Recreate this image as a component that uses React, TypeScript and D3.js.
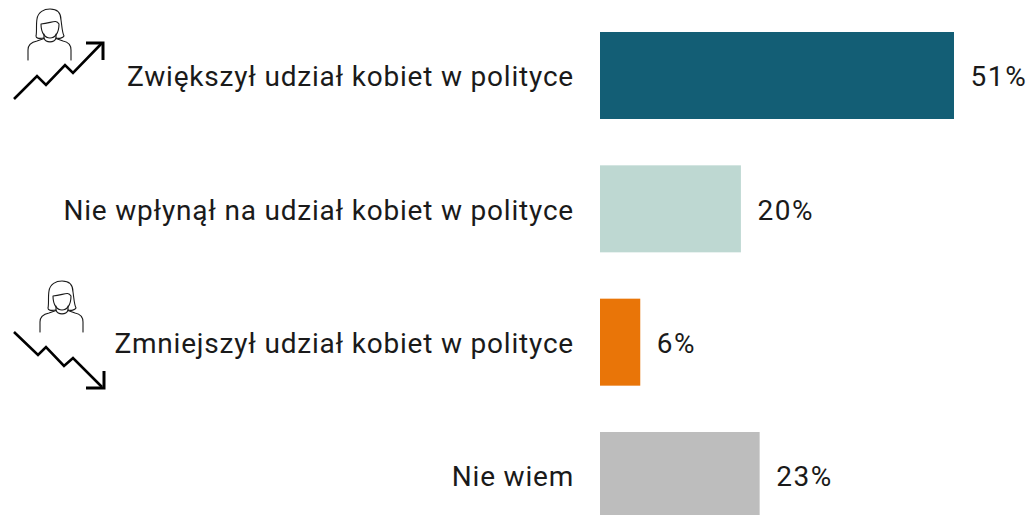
import React from "react";
import * as d3 from "d3";

const categories = [
  "Zwiększył udział kobiet w polityce",
  "Nie wpłynął na udział kobiet w polityce",
  "Zmniejszył udział kobiet w polityce",
  "Nie wiem",
];
const values = [51, 20.3, 5.8, 23];
const colors = ["#135e75", "#bed8d2", "#e97508", "#bdbdbd"];

const WIDTH = 1030;
const HEIGHT = 515;
const FONT = "Roboto, 'Noto Sans', sans-serif";

const x = d3.scaleLinear().domain([0, 51]).range([600, 954]);
const y = d3.scaleBand<string>().domain(categories).range([32, 519]).paddingInner(0.3475).paddingOuter(0);
const pct = d3.format(".0f");

function Person({ dx, dy }: { dx: number; dy: number }) {
  return (
    <g transform={`translate(${dx},${dy})`} fill="none" stroke="#1a1a1a" strokeWidth={1.1} strokeLinejoin="round" strokeLinecap="round">
      <path d="M28 60 V50 C28 44 32 42 37 41 L44 38.5 C46 43 54 43 56 38.5 L63 41 C68 42 71 44 71 50 V60" />
      <path d="M44 34 V38.5 M56 34 V38.5" />
      <path d="M41 24 C41 33 45 38 50 38 C55 38 59 33 59 24 C56 19 52 23 41 24 Z" />
      <path d="M44 38 C38 39 36 38 36 36 C37 32 36 24 37 19 C38 12 44 9 50 9 C57 9 61 13 61 20 C62 26 62 32 64 36 C63 38 59 39 56 38" />
    </g>
  );
}

export default function App() {
  const h = y.bandwidth();
  return (
    <svg width={WIDTH} height={HEIGHT} style={{ position: "absolute", left: 0, top: 0, display: "block" }} fontFamily={FONT}>
      <rect width={WIDTH} height={HEIGHT} fill="#fff" />
      {categories.map((c, i) => {
        const top = y(c) as number;
        const cy = top + h / 2 + 1;
        return (
          <g key={c}>
            <rect x={x(0)} y={top} width={x(values[i]) - x(0)} height={Math.min(h, HEIGHT - top)} fill={colors[i]} />
            <text x={574} y={cy} dy="0.35em" textAnchor="end" fontSize={28} letterSpacing={0.8} fill="#1a1a1a">{c}</text>
            <text x={x(values[i]) + 16.5} y={cy} dy="0.35em" fontSize={28} letterSpacing={1.6} fill="#1a1a1a">{pct(values[i])}%</text>
          </g>
        );
      })}
      <Person dx={0} dy={0} />
      <Person dx={12} dy={272} />
      <g fill="none" stroke="#000" strokeWidth={2.6}>
        <path d="M14 99 L37 76 L46 85 L65 65 L73 73 L102 43" />
        <path d="M86 43 H103 V60" strokeWidth={3} />
        <path d="M14 332 L38 355 L46 347 L64 366 L73 358 L102 387" />
        <path d="M86 388 H104 V371" strokeWidth={3} />
      </g>
    </svg>
  );
}
